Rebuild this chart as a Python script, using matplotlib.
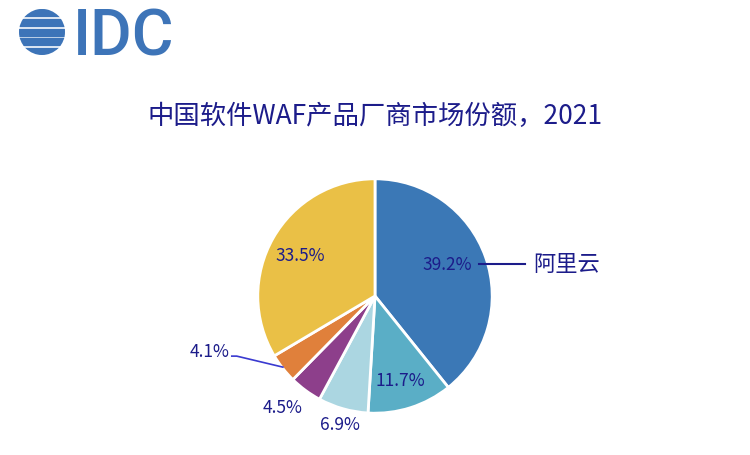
import numpy as np
import matplotlib.pyplot as plt
from matplotlib.patches import Circle, Rectangle

plt.rcParams['font.family'] = ['Noto Sans CJK SC', 'DejaVu Sans']

title = '中国软件WAF产品厂商市场份额，2021'
shares = [39.2, 11.7, 6.9, 4.5, 4.1, 33.5]
labels = ['39.2%', '11.7%', '6.9%', '4.5%', '4.1%', '33.5%']
colors = ['#3b78b6', '#5aaec6', '#abd6e1', '#8d3f8b', '#e0803b', '#eac046']
vendor = '阿里云'

navy = '#1c1c8a'
logo_blue = '#3d74b8'

fig = plt.figure(figsize=(7.5, 4.56), dpi=100)

# overlay in pixel coordinates for logo and title
bg = fig.add_axes([0, 0, 1, 1])
bg.set_xlim(0, 750)
bg.set_ylim(456, 0)
bg.axis('off')

# IDC logo: striped globe + letters
clip = Circle((42, 33), 23, transform=bg.transData)
stripes = [(10, 7, 0), (20, 7, 4), (29.5, 7, -3), (39, 7, 3), (49, 7, 0)]
for y, h, dx in stripes:
    r = Rectangle((15 + dx, y), 56, h, color=logo_blue)
    bg.add_patch(r)
    r.set_clip_path(clip)
bg.text(73, 56, 'IDC', family='Roboto', fontweight='medium', fontsize=46,
        color=logo_blue, ha='left', va='baseline')

bg.text(375, 116, title, fontsize=19, color=navy, ha='center', va='center')

# pie
ax = fig.add_axes([225 / 750, 1 - 447 / 456, 300 / 750, 300 / 456])
ax.pie(shares, colors=colors, startangle=90, counterclock=False,
       wedgeprops=dict(edgecolor='white', linewidth=2))
ax.set_xlim(-1.28, 1.28)
ax.set_ylim(-1.28, 1.28)
ax.set_aspect('equal')
ax.axis('off')

pos = [(0.615, 0.274), (0.214, -0.718), (-0.30, -1.094),
       (-0.786, -0.949), (-1.41, -0.47), (-0.641, 0.350)]
for (x, y), t in zip(pos, labels):
    ax.text(x, y, t, fontsize=12.5, color=navy, ha='center', va='center',
            clip_on=False)

ax.plot([0.89, 1.28], [0.274, 0.274], color=navy, lw=1.5, clip_on=False)
ax.text(1.35, 0.274, vendor, fontsize=16, color=navy, ha='left',
        va='center', clip_on=False)
ax.plot([-1.222, -1.18, -0.786], [-0.513, -0.513, -0.607], color='#3a3ad0',
        lw=1.2, clip_on=False)

fig.savefig('out.png', dpi=100)
